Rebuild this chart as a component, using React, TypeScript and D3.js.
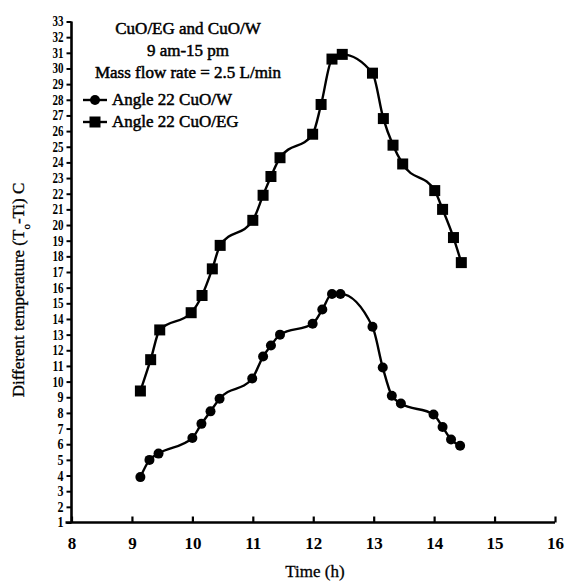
import React, { useEffect, useRef } from 'react';
import * as d3 from 'd3';

// Time (h) and temperature difference for each series
const timeW = [9.14, 9.29, 9.44, 10.0, 10.15, 10.3, 10.45, 10.99, 11.17, 11.3, 11.45, 11.99, 12.15, 12.31, 12.45, 12.98, 13.15, 13.3, 13.45, 13.99, 14.14, 14.28, 14.43];
const valW = [3.9, 5.0, 5.4, 6.4, 7.3, 8.1, 8.9, 10.2, 11.6, 12.3, 13.0, 13.7, 14.6, 15.6, 15.6, 13.5, 10.9, 9.1, 8.6, 7.9, 7.1, 6.3, 5.9];

const timeEG = [9.14, 9.31, 9.46, 9.98, 10.16, 10.33, 10.46, 11.0, 11.17, 11.3, 11.45, 11.99, 12.13, 12.31, 12.48, 12.98, 13.16, 13.32, 13.48, 14.01, 14.14, 14.32, 14.45];
const valEG = [9.4, 11.4, 13.3, 14.4, 15.5, 17.2, 18.7, 20.3, 21.9, 23.1, 24.3, 25.8, 27.7, 30.6, 30.9, 29.7, 26.8, 25.1, 23.9, 22.2, 21.0, 19.2, 17.6];

const xTicks = [8, 9, 10, 11, 12, 13, 14, 15, 16];
const yTicks = d3.range(1, 34);

const titleLines = ['CuO/EG and CuO/W', '9 am-15 pm', 'Mass flow rate = 2.5 L/min'];
const legendLabels = ['Angle 22 CuO/W', 'Angle 22 CuO/EG'];

const App: React.FC = () => {
  const svgRef = useRef<SVGSVGElement>(null);
  const width = 567;
  const height = 584;

  useEffect(() => {
    if (!svgRef.current) return;
    const svg = d3.select(svgRef.current);
    svg.selectAll('*').remove();

    const font = '"Liberation Serif", "Times New Roman", serif';
    const x = d3.scaleLinear().domain([8, 16]).range([71.5, 555]);
    const y = d3.scaleLinear().domain([1, 33]).range([522.5, 21.5]);

    // Axes
    const xAxis = svg.append('g').attr('transform', `translate(0,${y(1)})`)
      .call(d3.axisBottom(x).tickValues(xTicks).tickSize(-6).tickPadding(14).tickFormat(d3.format('d')));
    xAxis.select('.domain').attr('stroke-width', 2.6).attr('d', `M${x(8) - 6},0H${x(16)}`);
    xAxis.selectAll('.tick line').attr('stroke-width', 2.2);
    xAxis.selectAll('.tick text')
      .style('font-family', font).style('font-size', '17px').style('font-weight', 'bold').attr('fill', '#000');

    const yAxis = svg.append('g').attr('transform', `translate(${x(8)},0)`)
      .call(d3.axisLeft(y).tickValues(yTicks).tickSize(5).tickPadding(3).tickFormat(d3.format('d')));
    yAxis.select('.domain').attr('stroke-width', 2.6).attr('d', `M0,${y(1)}V${y(33)}`);
    yAxis.selectAll('.tick line').attr('stroke-width', 2);
    yAxis.selectAll<SVGTextElement, number>('.tick text')
      .style('font-family', font).style('font-size', '14px').style('font-weight', 'bold').attr('fill', '#000')
      .attr('textLength', d => (d >= 10 ? 11 : 6)).attr('lengthAdjust', 'spacingAndGlyphs');

    // Axis titles
    svg.append('text')
      .attr('x', 315).attr('y', 577).attr('text-anchor', 'middle')
      .style('font-family', font).style('font-size', '17px')
      .attr('fill', '#000').attr('stroke', '#000').attr('stroke-width', 0.3)
      .text('Time (h)');

    const yl = svg.append('text')
      .attr('transform', 'translate(24,290) rotate(-90)').attr('text-anchor', 'middle')
      .style('font-family', font).style('font-size', '17px')
      .attr('fill', '#000').attr('stroke', '#000').attr('stroke-width', 0.3);
    yl.append('tspan').text('Different temperature (T');
    yl.append('tspan').attr('baseline-shift', 'sub').style('font-size', '11px').text('o');
    yl.append('tspan').text('-Ti) C');

    // Lines and markers
    const line = d3.line<[number, number]>().x(d => x(d[0])).y(d => y(d[1])).curve(d3.curveMonotoneX);
    const ptsW = timeW.map((t, i) => [t, valW[i]] as [number, number]);
    const ptsEG = timeEG.map((t, i) => [t, valEG[i]] as [number, number]);

    svg.append('path').datum(ptsEG).attr('d', line).attr('fill', 'none').attr('stroke', '#000').attr('stroke-width', 2.4);
    svg.append('path').datum(ptsW).attr('d', line).attr('fill', 'none').attr('stroke', '#000').attr('stroke-width', 2.4);

    svg.selectAll('.sq').data(ptsEG).join('rect')
      .attr('x', d => x(d[0]) - 5.5).attr('y', d => y(d[1]) - 5.5)
      .attr('width', 11).attr('height', 11).attr('fill', '#000');
    svg.selectAll('.ci').data(ptsW).join('circle')
      .attr('cx', d => x(d[0])).attr('cy', d => y(d[1])).attr('r', 5).attr('fill', '#000');

    // Title block
    svg.selectAll('.title').data(titleLines).join('text')
      .attr('x', 188).attr('y', (_, i) => 34 + i * 22).attr('text-anchor', 'middle')
      .style('font-family', font).style('font-size', '17px')
      .attr('fill', '#000').attr('stroke', '#000').attr('stroke-width', 0.5)
      .text(d => d);

    // Legend
    const lg = svg.append('g');
    legendLabels.forEach((label, i) => {
      const cy = 100 + i * 22;
      lg.append('line').attr('x1', 83).attr('x2', 107).attr('y1', cy).attr('y2', cy)
        .attr('stroke', '#000').attr('stroke-width', 2.4);
      if (i === 0) lg.append('circle').attr('cx', 95).attr('cy', cy).attr('r', 5).attr('fill', '#000');
      else lg.append('rect').attr('x', 89.5).attr('y', cy - 5.5).attr('width', 11).attr('height', 11).attr('fill', '#000');
      lg.append('text').attr('x', 112).attr('y', cy + 5)
        .style('font-family', font).style('font-size', '17px')
        .attr('fill', '#000').attr('stroke', '#000').attr('stroke-width', 0.5)
        .text(label);
    });
  }, []);

  return (
    <svg
      ref={svgRef}
      width={width}
      height={height}
      style={{ position: 'absolute', left: 0, top: 0, background: '#fff', display: 'block' }}
    />
  );
};

export default App;
